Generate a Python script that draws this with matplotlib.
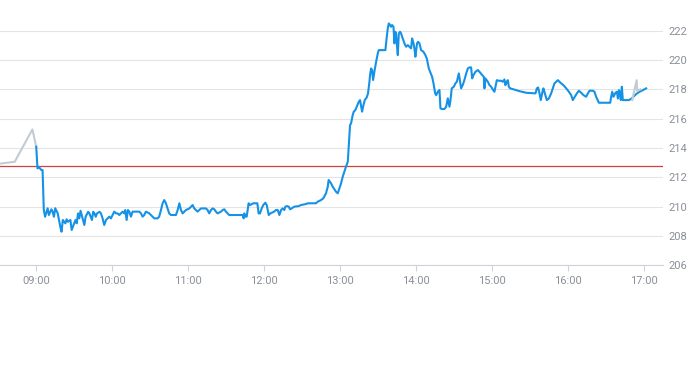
import matplotlib
matplotlib.use("Agg")
import matplotlib.pyplot as plt

# intraday price, minutes after 09:00
prev_close = 212.8

pre_min = [-29, -17, -3, 0]
pre_price = [212.93, 213.06, 215.27, 214.09]

reg_min = [
    0, 1, 2, 4, 5, 6, 7, 9, 10, 12, 13, 14, 15, 17, 18, 19, 20, 21, 23, 24,
    25, 27, 28, 29, 31, 32, 33, 34, 35, 37, 38, 39, 41, 42, 43, 44, 45, 46, 47, 48,
    50, 51.1, 52.4, 53.7, 55.1, 56.4, 57.7, 59.0, 60.3, 61.6, 63.0, 64.3, 65.6, 66.9, 68.2,
    69.5, 70.3, 71.4, 72.4, 73.5, 74.8, 76.1, 78.8, 81.4, 82.7, 84.0, 85.3, 86.6, 89.3,
    90.6, 91.9, 93.2, 95.8, 97.1, 98.5, 99.8, 101.1, 102.4, 103.7, 105.0, 106.4, 110.3,
    111.7, 113.0, 114.3, 115.6, 118.2, 120.9, 123.5, 124.8, 126.1, 127.4, 128.8, 130.1,
    134.0, 135.3, 136.6, 138.0, 139.3, 140.6, 141.9, 143.2, 145.9, 147.2, 148.5, 149.8,
    151.1, 152.4, 163.0, 163.8, 164.3, 165.1, 166.2, 167.7, 168.8, 171.4, 174.6, 175.6,
    176.7, 178.0, 179.3, 180.9, 182.0, 183.6, 184.9, 187.8, 189.4, 190.7, 192.0, 193.3,
    194.6, 195.9, 196.7, 198.0, 199.4, 200.4, 201.7, 203.8, 207.3, 209.1, 213.0, 214.4,
    220.9, 222.3, 224.9, 226.7, 228.8, 230.2, 230.9, 232.8, 234.1, 236.7, 238.1, 239.4,
    240.7, 242.0, 243.3, 244.6, 246.0, 247.8, 248.6, 249.9, 250.7, 252.0, 253.1, 254.7,
    255.7, 256.8, 257.3, 258.4, 259.4, 261.0, 262.0, 263.1, 263.6, 264.4, 265.2, 266.0,
    267.0, 268.4, 269.7, 270.5, 275.7, 276.8, 277.6, 278.4, 279.4, 280.2, 281.0, 282.1,
    282.8, 283.6, 284.2, 284.9, 285.5, 286.3, 287.3, 288.1, 288.9, 289.9, 290.7, 292.1,
    293.4, 294.7, 296.0, 296.8, 297.9, 298.6, 299.4, 300.0, 300.7, 301.5, 302.6, 303.9,
    305.7, 307.3, 308.4, 310.0, 311.0, 312.6, 313.7, 315.0, 315.8, 317.1, 318.4, 319.2,
    320.5, 322.3, 323.7, 325.0, 326.3, 327.1, 328.1, 329.7, 331.0, 332.1, 333.7, 334.7,
    335.5, 336.8, 338.1, 339.5, 340.8, 342.1, 343.4, 344.2, 345.3, 346.8, 348.7, 350.0,
    352.1, 353.4, 353.9, 354.7, 356.6, 357.9, 359.2, 360.5, 361.8, 362.6, 363.7, 365.3,
    367.1, 368.4, 369.7, 370.5, 371.6, 372.4, 373.2, 374.2, 376.3, 381.6, 386.9, 394.2,
    395.3, 396.3, 397.4, 398.4, 400.0, 400.5, 401.6, 403.2, 404.8, 406.6, 407.9, 409.2,
    410.6, 411.9, 413.2, 414.5, 416.3, 418.5, 420.6, 422.4, 423.7, 425.3, 426.9, 428.5,
    430.3, 432.1, 434.2, 435.6, 436.9, 439.5, 440.8, 442.1, 444.3, 453.2, 454.0, 454.8,
    455.8, 457.4, 458.5, 459.3, 460.1, 460.6, 461.6, 462.4, 463.2, 468.0, 470.1, 473.7,
    476.4, 479.0, 481.6,
]
reg_price = [
    214.09, 212.61, 212.72, 212.50, 212.50, 209.77, 209.31, 209.89, 209.43, 209.82,
    209.65, 209.31, 209.89, 209.54, 209.09, 208.63, 208.29, 209.09, 208.86, 209.14,
    208.97, 209.09, 208.41, 208.63, 209.09, 208.86, 209.54, 209.20, 209.72, 209.09,
    208.75, 209.31, 209.65, 209.54, 209.31, 209.09, 209.65, 209.54, 209.31, 209.54,
    209.65, 209.54, 209.20, 208.75, 209.09, 209.20, 209.32, 209.20, 209.43, 209.66,
    209.54, 209.54, 209.43, 209.54, 209.66, 209.54, 209.77, 209.09, 209.77, 209.66,
    209.32, 209.66, 209.66, 209.66, 209.54, 209.32, 209.43, 209.66, 209.54, 209.43,
    209.32, 209.20, 209.20, 209.32, 209.77, 210.23, 210.45, 210.23, 209.88, 209.54,
    209.43, 209.43, 209.77, 210.23, 209.77, 209.54, 209.77, 209.88, 210.11, 209.88,
    209.77, 209.66, 209.77, 209.88, 209.88, 209.77, 209.54, 209.77, 209.88, 209.82,
    209.66, 209.54, 209.66, 209.77, 209.82, 209.66, 209.54, 209.43, 209.43, 209.20,
    209.54, 209.32, 209.32, 210.23, 210.11, 210.23, 210.23, 209.54, 209.54, 209.88,
    210.11, 210.27, 210.11, 209.43, 209.54, 209.66, 209.77, 209.77, 209.43, 209.77,
    209.88, 209.77, 210.00, 210.04, 210.00, 209.82, 209.88, 210.00, 210.04, 210.11,
    210.18, 210.23, 210.23, 210.34, 210.45, 210.57, 210.91, 211.36, 211.82, 211.59,
    211.36, 211.02, 210.91, 211.25, 211.59, 212.04, 212.38, 212.73, 213.06, 215.57,
    215.68, 216.25, 216.48, 216.59, 216.82, 217.16, 217.27, 216.70, 216.48, 216.93,
    217.27, 217.46, 217.73, 218.52, 218.98, 219.43, 219.32, 218.64, 219.20, 219.89,
    220.46, 220.68, 220.68, 221.59, 222.16, 222.50, 222.39, 222.27, 222.39, 222.27,
    221.14, 221.93, 221.71, 220.91, 220.34, 221.82, 221.93, 221.82, 221.59, 221.36,
    221.14, 220.91, 221.02, 220.91, 220.80, 221.48, 221.14, 220.80, 220.23, 220.68,
    221.14, 221.25, 221.14, 220.68, 220.57, 220.34, 220.11, 219.43, 219.20, 218.86,
    218.41, 217.73, 217.61, 217.84, 217.96, 216.70, 216.66, 216.66, 216.82, 217.39,
    216.82, 217.27, 218.07, 218.18, 218.41, 218.52, 219.09, 218.52, 218.07, 218.30,
    218.64, 219.09, 219.43, 219.50, 219.50, 218.75, 218.98, 219.20, 219.32, 219.20,
    218.98, 218.86, 218.07, 218.75, 218.52, 218.29, 218.18, 218.00, 217.84, 218.18,
    218.63, 218.59, 218.59, 218.52, 218.68, 218.29, 218.52, 218.63, 218.18, 218.07,
    218.02, 217.88, 217.77, 217.73, 218.07, 218.13, 217.73, 217.27, 217.95, 218.07,
    217.73, 217.27, 217.38, 217.73, 218.07, 218.41, 218.52, 218.63, 218.52, 218.41,
    218.29, 218.07, 217.84, 217.61, 217.27, 217.50, 217.73, 217.91, 217.77, 217.61,
    217.50, 217.73, 217.91, 217.91, 217.84, 217.50, 217.09, 217.09, 217.50, 217.84,
    217.50, 217.77, 217.84, 217.38, 217.95, 217.84, 217.27, 218.18, 217.27, 217.27,
    217.38, 217.68, 217.84, 217.95, 218.07,
]

post_min = [470.6, 474.1, 474.5, 477.0]
post_price = [217.27, 218.63, 217.90, 218.00]

y_ticks = [206, 208, 210, 212, 214, 216, 218, 220, 222]
x_tick_min = [0, 60, 120, 180, 240, 300, 360, 420, 480]
x_tick_labels = ["09:00", "10:00", "11:00", "12:00", "13:00",
                 "14:00", "15:00", "16:00", "17:00"]

plt.rcParams["font.family"] = ["Roboto", "DejaVu Sans"]
label_color = "#8a8f98"

fig = plt.figure(figsize=(6.93, 3.65), dpi=100)
ax = fig.add_axes([0, 0.2732, 0.9567, 0.7268])

ax.plot(pre_min, pre_price, color="#c3cbd3", linewidth=1.5, zorder=3)
ax.plot(reg_min, reg_price, color="#1592e6", linewidth=1.5, zorder=4)
ax.plot(post_min, post_price, color="#c3cbd3", linewidth=1.5, zorder=5)
ax.axhline(prev_close, color="#d04040", linewidth=0.9, zorder=2)

ax.set_xlim(-28.6, 494.9)
ax.set_ylim(206, 224.1)
ax.set_yticks(y_ticks)
ax.set_xticks(x_tick_min)
ax.set_xticklabels(x_tick_labels)

ax.yaxis.tick_right()
ax.grid(axis="y", color="#e4e4e4", linewidth=0.8)
ax.set_axisbelow(True)
for side in ("top", "left", "right"):
    ax.spines[side].set_visible(False)
ax.spines["bottom"].set_color("#ccd3da")
ax.spines["bottom"].set_linewidth(0.8)

ax.tick_params(axis="y", length=0, pad=4, labelsize=8, labelcolor=label_color)
ax.tick_params(axis="x", length=4, width=0.8, color="#ccd3da", pad=4,
               labelsize=8, labelcolor=label_color)

fig.savefig("out.png", dpi=100)
